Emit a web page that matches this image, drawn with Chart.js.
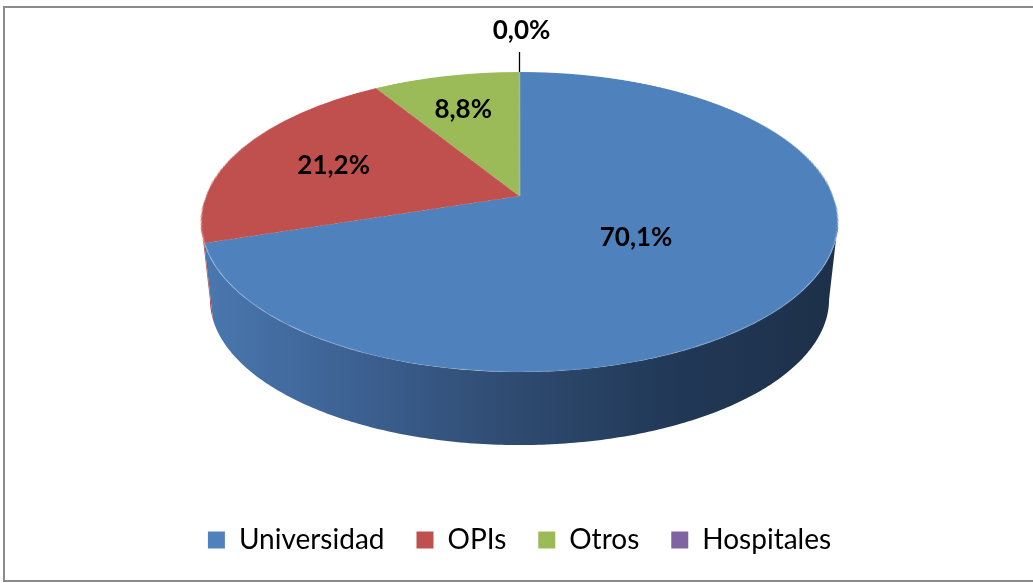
<!DOCTYPE html>
<html>
<head>
<meta charset="utf-8">
<script src="https://cdn.jsdelivr.net/npm/chart.js@4.4.1/dist/chart.umd.min.js"></script>
<style>
  html, body { margin: 0; padding: 0; background: #fff; }
  #wrap { position: relative; width: 1033px; height: 583px; overflow: hidden; }
  #frame { position: absolute; left: 3px; top: 6px; width: 1040px; height: 572px; border: 2px solid #8b8b8b; }
  #chart { position: absolute; left: 0; top: 0; }
</style>
</head>
<body>
<div id="wrap">
  <div id="frame"></div>
  <canvas id="chart" width="1033" height="583"></canvas>
</div>
<script>
/* 3D-looking pie: Chart.js draws a flat pie, a plugin tilts it into perspective and adds the rim. */

const categories = ["Universidad", "OPIs", "Otros", "Hospitales"];
const shares = [70.1, 21.2, 8.8, 0.0];

const COLORS = ["#4F81BD", "#C0504D", "#9BBB59", "#8064A2"];
// rim shading, left -> right
const RIM_COLORS = [
  ["#4a78b0", "#3c6091", "#2e4a6f", "#213856", "#1d3049"],
  ["#b04946", "#9c403d"],
  ["#7f9a49", "#6b833d"],
  ["#67508a", "#574477"],
];

const PERSP = 0.173;         // far edge shrink
const TOP_HALF_WIDTH = 318.5;
const TOP_HEIGHT = 300;
const DEPTH = 78;
const BOTTOM_SCALE = 0.972;

const pie3d = {
  id: "pie3d",
  afterDatasetsDraw(chart) {
    const ctx = chart.ctx;
    const arcs = chart.getDatasetMeta(0).data;
    const cx = arcs[0].x, cy = arcs[0].y, R = arcs[0].outerRadius;
    const k = PERSP;
    const a = TOP_HALF_WIDTH * Math.sqrt(1 - k * k);
    const b = TOP_HEIGHT * (1 - k * k) / 2;
    const X0 = cx;
    const Y0 = chart.chartArea.top + b / (1 + k);

    const proj = (u, v, low) => {
      const w = 1 + k * v;
      let x = a * u / w, y = -b * v / w;
      if (low) { x *= BOTTOM_SCALE; y = y * BOTTOM_SCALE + DEPTH; }
      return [X0 + x, Y0 + y];
    };

    // lift the flat pie off the canvas
    const S = Math.ceil(R) + 2;
    const sx0 = Math.round(cx) - S, sy0 = Math.round(cy) - S;
    const off = document.createElement("canvas");
    off.width = off.height = 2 * S;
    off.getContext("2d").drawImage(chart.canvas, sx0, sy0, 2 * S, 2 * S, 0, 0, 2 * S, 2 * S);
    ctx.clearRect(sx0, sy0, 2 * S, 2 * S);
    const ocx = cx - sx0, ocy = cy - sy0;

    // rim (front half only)
    const lo = Math.asin(k), hi = Math.PI - lo;
    arcs.forEach((el, i) => {
      const s = Math.max(el.startAngle, lo), e = Math.min(el.endAngle, hi);
      if (e <= s) return;
      const n = Math.max(4, Math.ceil((e - s) * 80));
      ctx.beginPath();
      for (let j = 0; j <= n; j++) {
        const t = s + (e - s) * j / n;
        const [x, y] = proj(Math.cos(t), -Math.sin(t), false);
        j ? ctx.lineTo(x, y) : ctx.moveTo(x, y);
      }
      for (let j = n; j >= 0; j--) {
        const t = s + (e - s) * j / n;
        const [x, y] = proj(Math.cos(t), -Math.sin(t), true);
        ctx.lineTo(x, y);
      }
      ctx.closePath();
      const stops = RIM_COLORS[i];
      const g = ctx.createLinearGradient(X0 - TOP_HALF_WIDTH, 0, X0 + TOP_HALF_WIDTH, 0);
      stops.forEach((c, j) => g.addColorStop(stops.length > 1 ? j / (stops.length - 1) : 0, c));
      ctx.fillStyle = g;
      ctx.fill();
    });

    // top face, row by row in perspective
    ctx.save();
    ctx.imageSmoothingEnabled = true;
    ctx.imageSmoothingQuality = "high";
    const vAt = (y) => { const d = (Y0 - y) / b; return d / (1 - k * d); };
    const yTop = Math.floor(Y0 - b / (1 + k)) - 1, yBot = Math.ceil(Y0 + b / (1 - k)) + 1;
    for (let y = yTop; y < yBot; y++) {
      const vm = vAt(y + 0.5);
      if (Math.abs(vm) > 1.02) continue;
      const v1 = vAt(y), v2 = vAt(y + 1);
      const half = a / (1 + k * vm);
      const srcY = Math.max(0, ocy - R * v1);
      const srcH = Math.max(0.01, Math.min(2 * S - srcY, R * (v1 - v2)));
      ctx.drawImage(off, ocx - R, srcY, 2 * R, srcH, X0 - half, y, 2 * half, 1);
    }
    ctx.restore();

    // data labels
    ctx.save();
    ctx.fillStyle = "#000";
    ctx.strokeStyle = "#000";
    ctx.textAlign = "center";
    ctx.textBaseline = "middle";
    ctx.font = "bold 26px Lato";
    const total = shares.reduce((p, c) => p + c, 0);
    const [ox, oy] = proj(0, 0, false);
    arcs.forEach((el, i) => {
      const share = shares[i] / total;
      const mid = (el.startAngle + el.endAngle) / 2;
      const text = shares[i].toFixed(1).replace(".", ",") + "%";
      if (share < 0.02) {
        const [px, py] = proj(Math.cos(mid), -Math.sin(mid), false);
        let dx = px - ox, dy = py - oy;
        const len = Math.hypot(dx, dy) || 1;
        dx /= len; dy /= len;
        ctx.lineWidth = 1.3;
        ctx.beginPath();
        ctx.moveTo(px, py);
        ctx.lineTo(px + dx * 20, py + dy * 20);
        ctx.stroke();
        ctx.fillText(text, px + dx * 41 + 2, py + dy * 41);
      } else {
        const f = 0.73 - 0.4 * share;
        const [x, y] = proj(f * Math.cos(mid), -f * Math.sin(mid), false);
        ctx.fillText(text, x - 3, y + 1);
      }
    });
    ctx.restore();
  },
};

new Chart(document.getElementById("chart"), {
  type: "pie",
  data: {
    labels: categories,
    datasets: [{ data: shares, backgroundColor: COLORS, borderWidth: 0, clip: false }],
  },
  options: {
    responsive: false,
    animation: false,
    events: [],
    layout: { padding: { top: 72, left: 6, right: 0, bottom: 19 } },
    plugins: {
      legend: {
        position: "bottom",
        labels: { font: { family: "Lato", size: 28 }, color: "#000", boxWidth: 17, boxHeight: 17, padding: 32 },
      },
      tooltip: { enabled: false },
    },
  },
  plugins: [pie3d],
});
</script>
</body>
</html>
